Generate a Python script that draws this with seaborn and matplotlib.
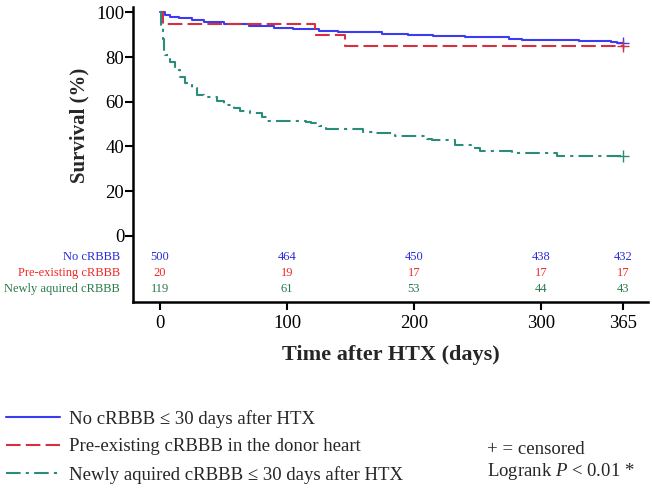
import numpy as np
import pandas as pd
import seaborn as sns
import matplotlib.pyplot as plt
from matplotlib.lines import Line2D

# Kaplan-Meier step data (days, survival %)
no_days = [0, 2, 4, 8, 15, 25, 35, 50, 70, 90, 105, 125, 140, 175, 195, 215, 240, 275, 285, 330, 355, 360, 365]
no_surv = [100, 100, 99, 98, 97.3, 96.5, 95.6, 95, 94, 93, 92.4, 91.8, 91, 90.5, 89.8, 89.5, 88.9, 88.2, 87.8, 87, 86.6, 86.2, 86.2]

pre_days = [0, 2, 122, 146, 365]
pre_surv = [100, 95, 90, 85, 85]

new_days = [0, 1, 2, 3, 4, 8, 12, 16, 20, 25, 29, 35, 45, 50, 58, 63, 71, 80, 84, 115, 119, 125, 131,
            160, 170, 185, 210, 214, 232, 245, 252, 277, 313, 365]
new_surv = [100, 94, 88, 83, 81, 78, 74, 71, 68.5, 66, 63, 62, 60.5, 58.5, 57, 56, 55, 53, 51.5, 51, 50.4, 49, 47.7,
            46.5, 46, 44.6, 43.5, 42.8, 40.6, 39.5, 38, 36.9, 35.8, 35.8]

# number at risk
risk_times = [0, 100, 200, 300, 365]
risk_no = [500, 464, 450, 438, 432]
risk_pre = [20, 19, 17, 17, 17]
risk_new = [119, 61, 53, 44, 43]
risk_names = ['No cRBBB', 'Pre-existing cRBBB', 'Newly aquired cRBBB']

legend_labels = ['No cRBBB \u2264 30 days after HTX',
                 'Pre-existing cRBBB in the donor heart',
                 'Newly aquired cRBBB \u2264 30 days after HTX']

sns.set_style('ticks')
plt.rcParams['font.family'] = ['Liberation Serif', 'DejaVu Serif']
plt.rcParams['mathtext.fontset'] = 'custom'
plt.rcParams['mathtext.it'] = 'Liberation Serif:italic'
plt.rcParams['mathtext.rm'] = 'Liberation Serif'

col_no = '#3b3bf2'
col_pre = '#d6303c'
col_new = '#2b8c7c'

fig = plt.figure(figsize=(6.52, 4.88), dpi=100)
ax = fig.add_axes([133 / 652, 186 / 488, 515 / 652, 295 / 488])

curves = pd.concat([
    pd.DataFrame({'day': no_days, 'surv': no_surv, 'grp': 'no'}),
    pd.DataFrame({'day': pre_days, 'surv': pre_surv, 'grp': 'pre'}),
    pd.DataFrame({'day': new_days, 'surv': new_surv, 'grp': 'new'}),
])

styles = {'no': (col_no, '-'), 'pre': (col_pre, (0, (7, 2.5))), 'new': (col_new, (0, (7, 2.5, 1.5, 2.5)))}
handles = []
for g, (c, ls) in styles.items():
    d = curves[curves.grp == g]
    sns.lineplot(data=d, x='day', y='surv', drawstyle='steps-post', color=c, linestyle=ls,
                 linewidth=1.5, estimator=None, sort=False, ax=ax)
    ax.plot(d.day.iloc[-1], d.surv.iloc[-1], marker='+', color=c, markersize=8, mew=1)
    handles.append(Line2D([0], [0], color=c, linestyle=ls, linewidth=1.5))

ax.set_xlim(-21.3, 384.3)
ax.set_ylim(-29.6, 102.4)
ax.set_yticks([0, 20, 40, 60, 80, 100])
ax.set_xticks(risk_times)
ax.tick_params(labelsize=13.5, length=5.5, width=1.5, pad=0.8, colors='black')
ax.tick_params(axis='x', pad=3.5)
for s in ['left', 'bottom']:
    ax.spines[s].set_linewidth(1.8)
    ax.spines[s].set_color('black')
sns.despine(ax=ax)

ax.set_xlabel('Time after HTX (days)', fontsize=16, fontweight='bold', labelpad=10)
ax.set_ylabel('Survival (%)', fontsize=15, fontweight='bold')
ax.yaxis.set_label_coords(-0.085, 0.60)

# number-at-risk table
risk_cols = ['#2a2ad8', '#f02828', '#2a7a4a']
for row, (vals, name, c) in enumerate(zip([risk_no, risk_pre, risk_new], risk_names, risk_cols)):
    yv = -9.6 - 7.15 * row
    ax.text(-31.5, yv, name, color=c, fontsize=9, ha='right', va='center', clip_on=False)
    for t, v in zip(risk_times, vals):
        ax.text(t, yv, str(v), color=c, fontsize=9, ha='center', va='center')

fig.legend(handles, legend_labels, loc='upper left', bbox_to_anchor=(0.003, 1 - 406 / 488),
           frameon=False, fontsize=13.5, handlelength=2.9, handletextpad=0.5, labelspacing=0.56,
           borderaxespad=0, borderpad=0.2)

fig.text(487 / 652, 1 - 450 / 488, '+ = censored', fontsize=13.5, va='center', ha='left')
fig.text(487 / 652, 1 - 472 / 488, 'Logrank $\\it{P}$ < 0.01 *', fontsize=13.5, va='center', ha='left')

fig.savefig('out.png', dpi=100)
